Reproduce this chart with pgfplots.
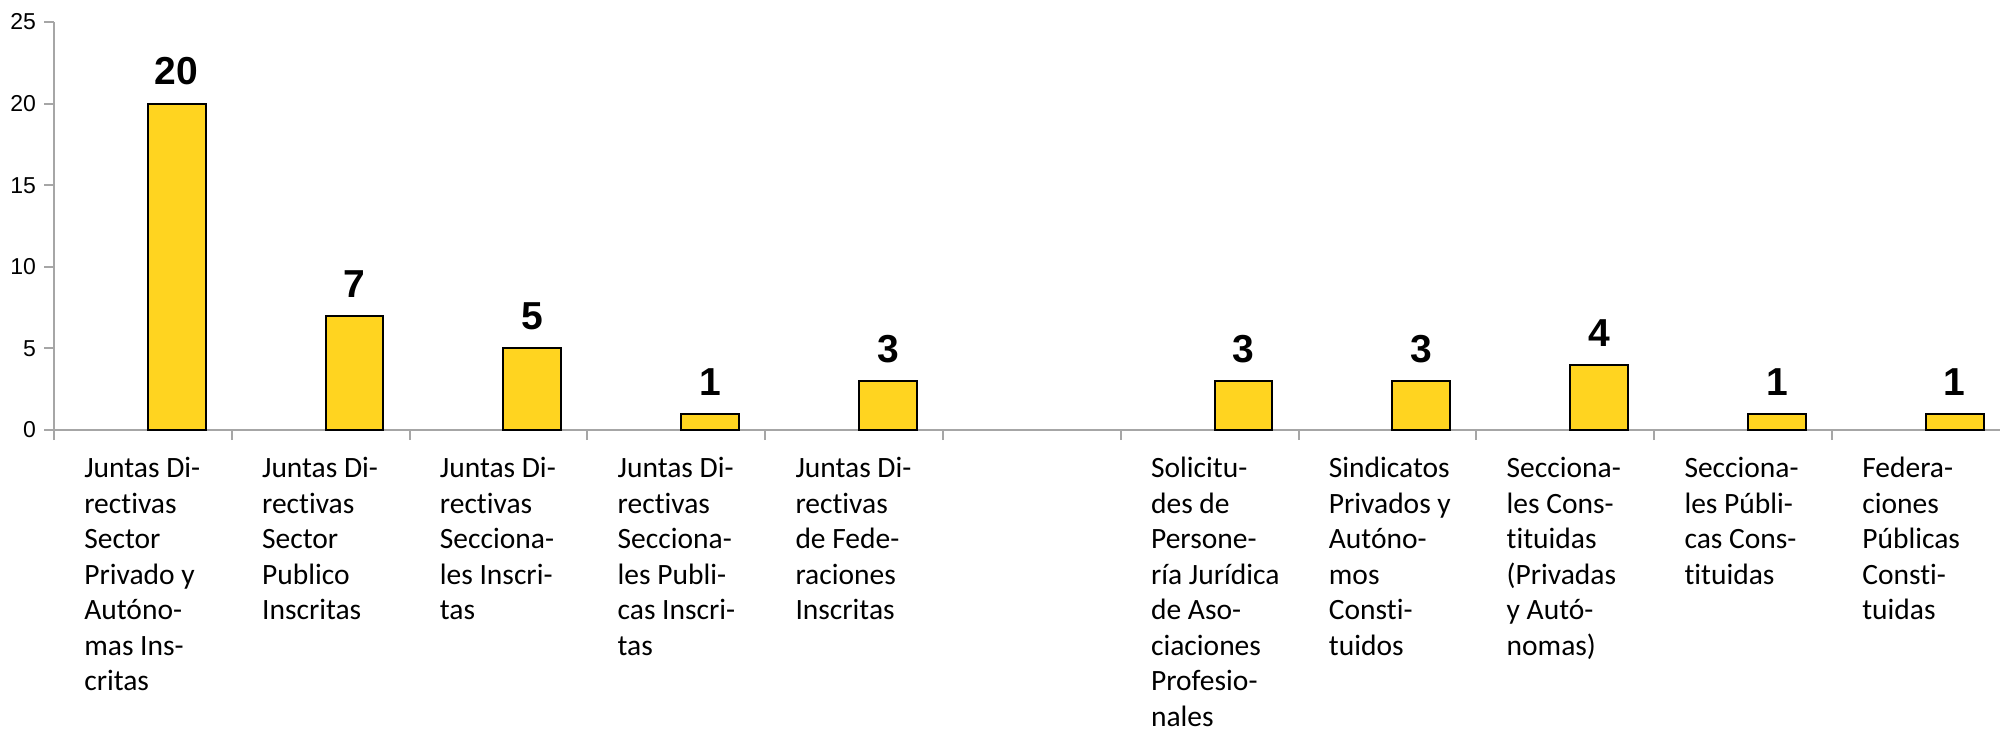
\documentclass[border=0pt]{standalone}
\usepackage{fontspec}
\setmainfont{Liberation Sans}
\newfontfamily\carlito[Ligatures=NoCommon]{Carlito}
\usepackage{pgfplots}
\pgfplotsset{compat=1.18}
\definecolor{baryel}{RGB}{255,212,32}
\definecolor{axgray}{RGB}{166,166,166}
\begin{document}
\begin{tikzpicture}
\begin{axis}[
  name=ax,
  scale only axis,
  width=973pt, height=204pt,
  xmin=-0.5, xmax=10.445,
  ymin=0, ymax=25,
  axis lines*=left,
  axis line style={axgray, line width=1.1pt},
  tick align=outside,
  ytick={0,5,...,25},
  ytick style={axgray, line width=1pt},
  major tick length=5pt,
  yticklabel style={font=\fontsize{11.5pt}{13pt}\selectfont, xshift=-0.5pt},
  /pgf/number format/assume math mode=true,
  xtick={0,...,10},
  x tick style={draw=none},
  xticklabels={
    {Juntas Di-\\rectivas\\Sector\\Privado y\\Autóno-\\mas Ins-\\critas},
    {Juntas Di-\\rectivas\\Sector\\Publico\\Inscritas},
    {Juntas Di-\\rectivas\\Secciona-\\les Inscri-\\tas},
    {Juntas Di-\\rectivas\\Secciona-\\les Publi-\\cas Inscri-\\tas},
    {Juntas Di-\\rectivas\\de Fede-\\raciones\\Inscritas},
    {},
    {Solicitu-\\des de\\Persone-\\ría Jurídica\\de Aso-\\ciaciones\\Profesio-\\nales},
    {Sindicatos\\Privados y\\Autóno-\\mos\\Consti-\\tuidos},
    {Secciona-\\les Cons-\\tituidas\\(Privadas\\y Autó-\\nomas)},
    {Secciona-\\les Públi-\\cas Cons-\\tituidas},
    {Federa-\\ciones\\Públicas\\Consti-\\tuidas}
  },
  xticklabel style={anchor=north west, align=left, inner sep=0pt,
    xshift=-29.5pt, yshift=-8.5pt,
    font=\fontsize{14.75pt}{17.75pt}\selectfont\carlito},
  extra x ticks={-0.5,0.5,...,10.5},
  extra x tick labels={},
  extra x tick style={x tick style={draw=axgray, line width=1pt}, major tick length=5pt},
  ybar,
  bar width=0.326,
  bar shift=0.19,
  nodes near coords,
  nodes near coords style={font=\fontsize{19.5pt}{22pt}\selectfont\bfseries, anchor=south, inner sep=0pt, yshift=8.8pt, text=black},
]
\addplot[fill=baryel, draw=black, line width=1pt] coordinates {
  (0,20) (1,7) (2,5) (3,1) (4,3) (6,3) (7,3) (8,4) (9,1) (10,1)
};
\end{axis}
\pgfresetboundingbox
\path ([xshift=-27pt,yshift=-149pt]ax.south west) rectangle ([yshift=11pt]ax.north east);
\end{tikzpicture}
\end{document}
